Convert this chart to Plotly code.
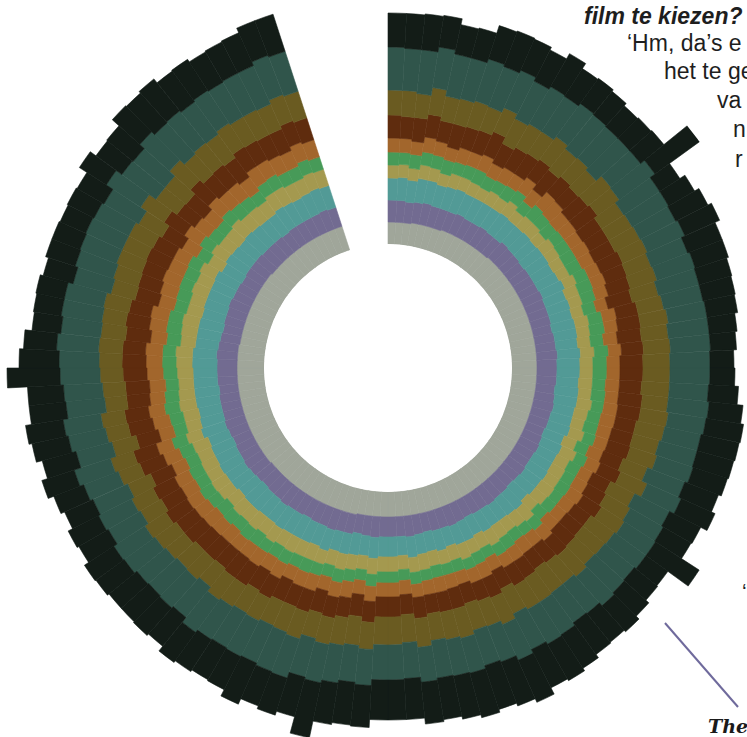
import plotly.graph_objects as go

# ---------------- data (thickness of each ring layer per 3-degree bin, clockwise from north) -------------
bin_width = 3
n_bins = 114
theta = [bin_width * i + bin_width / 2 for i in range(n_bins)]

gray = [22,22,22,23,23,23,23,24,24,24, 24,24,24,24,25,25,25,25,25,25,
        25,25,25,25,25,25,25,25,25,25, 25,25,25,25,25,25,25,25,25,25,
        25,25,25,25,25,25,25,25,25,25, 25,25,25,25,25,25,25,25,25,25,
        25,25,25,25,26,26,26,26,26,26, 26,26,26,26,26,26,26,27,27,27,
        27,27,27,27,27,27,27,27,27,27, 27,27,27,26,26,26,26,26,26,26,
        26,26,26,25,25,25,25,25,25,25, 25,25,25,25]
purple = [22,22,21,21,22,21,21,20,21,20, 20,21,20,20,21,20,20,19,20,20,
          20,21,20,20,20,19,20,20,21,20, 20,20,19,20,21,20,20,19,20,21,
          20,20,21,20,19,20,20,21,20,20, 19,20,21,20,20,19,20,21,20,20,
          20,21,20,19,20,20,21,20,20,19, 20,20,21,20,20,19,20,20,21,20,
          20,19,20,21,20,20,20,19,20,20, 20,21,20,20,19,20,20,21,20,20,
          19,20,20,21,20,20,20,19,20,20, 20,20,21,20]
teal = [22,23,22,24,23,22,23,24,22,23, 23,22,24,23,21,23,22,24,23,22,
        23,24,22,23,22,24,23,22,23,23, 23,22,24,23,21,22,23,21,22,20,
        21,22,20,21,20,22,21,19,20,21, 20,21,20,19,21,20,20,21,19,20,
        20,21,20,22,21,20,22,21,22,23, 22,23,21,22,23,24,22,23,22,24,
        23,24,22,25,24,23,24,25,24,24, 25,24,23,24,25,23,24,23,24,25,
        23,24,23,22,24,23,22,23,24,23, 22,23,23,23]
khaki = [13,13,12,14,13,12,14,13,13,12, 14,13,15,12,14,13,12,14,13,13,
         12,13,14,13,12,14,13,13,14,13, 13,14,13,15,14,13,15,14,16,14,
         15,14,16,15,14,16,15,14,15,16, 15,14,16,15,14,15,16,15,14,15,
         15,16,14,15,16,15,14,16,15,16, 15,16,15,17,15,16,15,16,17,15,
         16,15,17,16,15,16,17,16,15,16, 16,17,15,16,17,16,15,17,16,17,
         16,17,16,17,18,16,17,16,17,18, 17,16,17,17]
green = [13,12,14,13,13,14,12,13,14,13, 12,14,13,12,15,13,14,12,13,14,
         14,13,15,14,13,14,15,13,14,14, 14,13,14,12,13,14,12,13,12,13,
         12,13,11,12,13,12,11,12,13,12, 11,12,11,12,11,12,11,12,11,11,
         11,12,11,12,13,12,12,13,12,13, 13,12,14,13,12,13,14,13,14,13,
         14,13,14,15,13,14,15,14,13,14, 14,13,14,15,14,13,14,13,14,13,
         13,14,13,12,13,14,13,12,13,14, 13,13,14,13]
orange = [14,14,13,15,14,13,15,14,16,14, 15,14,16,15,17,18,16,15,14,15,
          14,13,14,13,12,14,13,14,13,13, 13,14,13,14,15,14,13,15,14,13,
          14,15,14,13,15,14,14,15,14,13, 14,15,14,13,14,15,14,13,14,14,
          14,15,14,16,15,14,16,15,14,16, 15,16,15,14,16,15,17,16,15,16,
          16,15,17,16,15,17,16,15,16,16, 16,17,16,17,18,16,17,18,17,16,
          17,18,17,16,18,17,18,17,18,17, 18,17,18,18]
brown = [23,22,24,23,21,24,22,23,25,22, 23,24,22,25,21,20,24,26,23,22,
         23,24,22,23,25,22,23,24,22,23, 23,22,24,23,21,22,23,21,22,20,
         21,22,20,21,22,20,21,19,20,21, 20,21,19,20,21,20,19,21,20,20,
         20,21,22,20,21,23,22,21,23,22, 22,23,24,22,23,22,24,23,25,23,
         24,23,25,24,23,25,24,23,24,24, 24,23,25,24,22,24,23,22,24,23,
         23,24,22,23,24,22,23,24,23,22, 23,24,23,23]
olive = [25,26,24,27,25,26,27,25,26,28, 27,26,28,27,25,24,30,27,26,27,
         28,27,26,28,27,26,28,27,27,27, 27,28,26,28,29,27,28,26,29,27,
         28,27,29,28,26,28,27,29,28,27, 28,29,27,28,30,28,27,29,28,28,
         28,27,29,28,27,26,28,27,26,25, 26,25,27,24,26,25,24,26,25,24,
         24,25,23,24,25,23,24,22,23,23, 23,24,25,24,26,25,26,27,26,27,
         27,28,26,27,28,27,28,29,28,27, 28,27,28,28]
dark_teal = [43,42,44,41,43,42,44,43,41,42, 43,42,41,44,42,45,38,44,43,42,
             40,41,39,40,42,40,39,41,40,40, 40,39,41,38,37,39,38,40,37,39,
             38,37,39,38,40,39,38,37,39,40, 40,39,38,37,36,37,38,35,36,35,
             35,36,37,38,39,40,41,42,41,40, 40,39,40,39,38,38,37,38,37,37,
             37,38,37,38,37,38,38,39,39,40, 40,42,40,41,40,39,40,39,40,39,
             40,41,42,41,40,42,41,40,39,40, 41,42,42,42]
black = [34,35,36,32,30,31,35,38,34,35, 38,33,31,30,28,29,30,61,24,30,
         36,38,37,35,34,33,31,28,26,24, 25,30,34,38,39,38,36,36,37,35,
         32,52,27,30,33,35,37,39,40,42, 43,46,47,46,46,44,42,42,41,40,
         40,42,43,42,56,41,39,37,45,37, 37,38,37,37,37,37,36,35,35,34,
         34,31,32,34,35,37,38,37,36,53, 40,33,29,28,29,31,31,30,28,30,
         31,32,32,34,37,40,41,38,37,35, 35,36,37,39]

layers = [gray, purple, teal, khaki, green, orange, brown, olive, dark_teal, black]
layer_names = ["laag 1", "laag 2", "laag 3", "laag 4", "laag 5",
               "laag 6", "laag 7", "laag 8", "laag 9", "laag 10"]
colors = ["#a0a69a", "#726b91", "#529a96", "#a4994f", "#479a58",
          "#a2662c", "#5f2c0e", "#6a5b21", "#30554b", "#131c17"]

# ---------------- figure geometry ----------------
W, H = 800, 790          # figure a bit larger than the window; page shifted up by OFFSET px
OFFSET = 17
R_PX = 385               # outer radius of the polar area in px
HOLE_PX = 124
CX, CY = 388, 368 + OFFSET

fig = go.Figure()
for vals, name, col in zip(layers, layer_names, colors):
    fig.add_trace(go.Barpolar(
        r=vals, theta=theta, width=[bin_width] * n_bins, name=name,
        marker=dict(color=col, line=dict(color=col, width=0.6)),
        hoverinfo="skip",
    ))

fig.update_layout(
    width=W, height=H,
    margin=dict(l=0, r=0, t=0, b=0),
    paper_bgcolor="white",
    showlegend=False,
    polar=dict(
        domain=dict(x=[(CX - R_PX) / W, (CX + R_PX) / W],
                    y=[1 - (CY + R_PX) / H, 1 - (CY - R_PX) / H]),
        hole=HOLE_PX / R_PX,
        barmode="stack",
        bgcolor="rgba(0,0,0,0)",
        radialaxis=dict(range=[0, R_PX - HOLE_PX], visible=False, showgrid=False),
        angularaxis=dict(direction="clockwise", rotation=90, visible=False, showgrid=False),
    ),
)


def px(x, y):
    """page pixel -> paper coords"""
    return x / W, 1 - (y + OFFSET) / H


sans = "Liberation Sans, Arial, sans-serif"
lines = [
    ("<b><i>film te kiezen?</i></b>", 582, 16, 23),
    ("‘Hm, da’s e", 625, 43, 23),
    ("het te ge", 662, 71, 23),
    ("va", 715, 100, 23),
    ("n", 731, 129, 23),
    ("r", 733, 159, 23),
    ("‘", 740, 590, 21),
]
for txt, x, y, size in lines:
    ax, ay = px(x, y)
    fig.add_annotation(x=ax, y=ay, xref="paper", yref="paper", text=txt, showarrow=False,
                       xanchor="left", yanchor="middle",
                       font=dict(family=sans, size=size, color="#1e1e1e"))

tx, ty = px(706, 726)
fig.add_annotation(x=tx, y=ty, xref="paper", yref="paper", text="<b><i>The</i></b>", showarrow=False,
                   xanchor="left", yanchor="middle",
                   font=dict(family="DejaVu Serif, Liberation Serif, serif", size=19, color="#1a1a1a"))

x0, y0 = px(665, 623)
x1, y1 = px(738, 707)
fig.add_shape(type="line", xref="paper", yref="paper", x0=x0, y0=y0, x1=x1, y1=y1,
              line=dict(color="#6f6a9c", width=2))

post = (
    "document.body.style.margin='0';"
    "document.body.style.overflow='hidden';"
    "document.documentElement.style.overflow='hidden';"
    "var gd=document.getElementById('{plot_id}');"
    "gd.style.position='absolute';gd.style.left='0px';gd.style.top='-" + str(OFFSET) + "px';"
)
fig.write_html("out.html", post_script=post, config={"displayModeBar": False})
